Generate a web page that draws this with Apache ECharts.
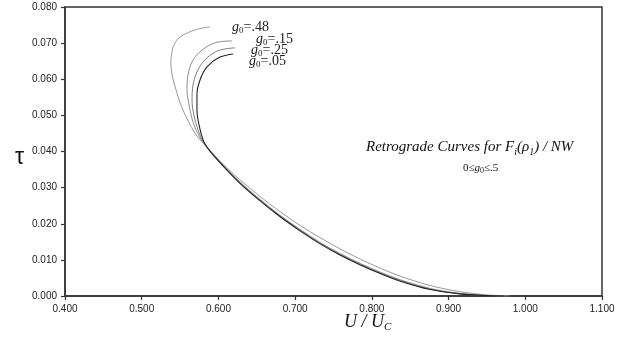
<!DOCTYPE html>
<html>
<head>
<meta charset="utf-8">
<script src="https://cdn.jsdelivr.net/npm/echarts@6/dist/echarts.min.js"></script>
<style>
  html, body { margin: 0; padding: 0; background: #fff; }
  #chart { width: 642px; height: 339px; }
</style>
</head>
<body>
<div id="chart"></div>
<script>
// Retrograde curves: shear stress ratio tau against velocity ratio U/Uc
const xTicks = [0.4, 0.5, 0.6, 0.7, 0.8, 0.9, 1.0, 1.1];
const yTicks = [0, 0.01, 0.02, 0.03, 0.04, 0.05, 0.06, 0.07, 0.08];

// [U/Uc, tau] per g0 value
const curveG048 = [
  [0.589, 0.0745], [0.570, 0.0737], [0.550, 0.0717], [0.542, 0.0695], [0.5395, 0.0676],
  [0.538, 0.0648], [0.5395, 0.0612], [0.5447, 0.0571], [0.551, 0.0529], [0.560, 0.0487],
  [0.5708, 0.0446], [0.580, 0.0424], [0.602, 0.0374], [0.628, 0.0322], [0.654, 0.0276],
  [0.680, 0.0234], [0.706, 0.0196], [0.732, 0.0162], [0.759, 0.0130], [0.785, 0.0102],
  [0.811, 0.0077], [0.837, 0.0055], [0.876, 0.0029], [0.915, 0.0012], [0.950, 0.0003],
  [0.980, 0.0]
];
const curveG015 = [
  [0.6177, 0.0706], [0.5956, 0.0701], [0.576, 0.0676], [0.5656, 0.0648], [0.5604, 0.0612],
  [0.559, 0.0571], [0.5617, 0.0529], [0.568, 0.0474], [0.576, 0.0438], [0.5825, 0.0418],
  [0.602, 0.0371], [0.628, 0.0316], [0.654, 0.0268], [0.680, 0.0224], [0.706, 0.0185],
  [0.732, 0.0149], [0.759, 0.0117], [0.785, 0.0090], [0.811, 0.0066], [0.837, 0.0045],
  [0.876, 0.0021], [0.915, 0.0007], [0.950, 0.0001], [0.976, 0.0]
];
const curveG025 = [
  [0.6216, 0.0687], [0.5995, 0.0679], [0.5825, 0.0654], [0.572, 0.0620], [0.5669, 0.0584],
  [0.5656, 0.0543], [0.568, 0.0501], [0.5734, 0.0460], [0.5812, 0.0424],
  [0.602, 0.0370], [0.628, 0.0314], [0.654, 0.0266], [0.680, 0.0222], [0.706, 0.0183],
  [0.732, 0.0147], [0.759, 0.0115], [0.785, 0.0088], [0.811, 0.0064], [0.837, 0.0043],
  [0.876, 0.0019], [0.915, 0.0006], [0.950, 0.0001], [0.974, 0.0]
];
const curveG005 = [
  [0.619, 0.0670], [0.5995, 0.0659], [0.585, 0.0634], [0.576, 0.0598], [0.572, 0.0557],
  [0.572, 0.0515], [0.5747, 0.0474], [0.580, 0.0432], [0.585, 0.0412],
  [0.602, 0.0369], [0.628, 0.0312], [0.654, 0.0264], [0.680, 0.0220], [0.706, 0.0181],
  [0.732, 0.0145], [0.759, 0.0113], [0.785, 0.0086], [0.811, 0.0062], [0.837, 0.0041],
  [0.876, 0.0018], [0.915, 0.0006], [0.950, 0.0001], [0.972, 0.0]
];

const serif = '"Liberation Serif", "DejaVu Serif", serif';
const sans = '"Liberation Sans", Arial, sans-serif';

function curve(name, data, color, width) {
  return {
    name: name,
    type: 'line',
    data: data,
    smooth: 0.35,
    showSymbol: false,
    lineStyle: { color: color, width: width },
    z: 3
  };
}

// "g0=.xx" tag as rich text with subscript 0
function gTag(text, left, top) {
  return {
    type: 'text',
    left: left,
    top: top,
    style: {
      text: '{g|g}{s|0}{t|' + text + '}',
      rich: {
        g: { fontFamily: serif, fontStyle: 'italic', fontSize: 14, lineHeight: 16, fill: '#222' },
        s: { fontFamily: serif, fontSize: 9, lineHeight: 9, verticalAlign: 'bottom', fill: '#222' },
        t: { fontFamily: serif, fontSize: 14, lineHeight: 16, fill: '#222' }
      }
    }
  };
}

const chart = echarts.init(document.getElementById('chart'));
chart.setOption({
  animation: false,
  backgroundColor: '#fff',
  grid: {
    left: 65, right: 40, top: 7, bottom: 43,
    show: true, borderColor: '#333', borderWidth: 1.5, backgroundColor: 'transparent'
  },
  xAxis: {
    type: 'value',
    min: xTicks[0], max: xTicks[xTicks.length - 1], interval: 0.1,
    axisLine: { show: true, lineStyle: { color: '#333', width: 1.5 } },
    axisTick: { show: true, inside: false, length: 4, lineStyle: { color: '#333', width: 1.2 } },
    splitLine: { show: false },
    axisLabel: {
      color: '#222', fontFamily: sans, fontSize: 10, margin: 8,
      formatter: v => v.toFixed(3)
    }
  },
  yAxis: {
    type: 'value',
    min: yTicks[0], max: yTicks[yTicks.length - 1], interval: 0.01,
    axisLine: { show: true, lineStyle: { color: '#333', width: 1.5 } },
    axisTick: { show: true, inside: false, length: 4, lineStyle: { color: '#333', width: 1.2 } },
    splitLine: { show: false },
    axisLabel: {
      color: '#222', fontFamily: sans, fontSize: 10, margin: 8,
      formatter: v => v.toFixed(3)
    }
  },
  series: [
    curve('g0=.48', curveG048, '#8c8c8c', 0.9),
    curve('g0=.15', curveG015, '#808080', 0.9),
    curve('g0=.25', curveG025, '#6e6e6e', 0.9),
    curve('g0=.05', curveG005, '#222', 1.1)
  ],
  graphic: [
    gTag('=.48', 232, 20),
    gTag('=.15', 256, 32),
    gTag('=.25', 251, 43),
    gTag('=.05', 249, 54),
    {
      type: 'text', left: 366, top: 140,
      style: {
        text: '{m|Retrograde Curves for F}{s|i}{m|(ρ}{s|1}{m|) / NW}',
        rich: {
          m: { fontFamily: serif, fontStyle: 'italic', fontSize: 15, lineHeight: 20, fill: '#111' },
          s: { fontFamily: serif, fontStyle: 'italic', fontSize: 10, lineHeight: 10, verticalAlign: 'bottom', fill: '#111' }
        }
      }
    },
    {
      type: 'text', left: 463, top: 163,
      style: {
        text: '{t|0≤}{g|g}{s|0}{t|≤.5}',
        rich: {
          t: { fontFamily: serif, fontSize: 11, lineHeight: 13, fill: '#111' },
          g: { fontFamily: serif, fontStyle: 'italic', fontSize: 11, lineHeight: 13, fill: '#111' },
          s: { fontFamily: serif, fontSize: 8, lineHeight: 8, verticalAlign: 'bottom', fill: '#111' }
        }
      }
    },
    {
      type: 'text', left: 344, top: 313,
      style: {
        text: '{m|U / U}{s|C}',
        rich: {
          m: { fontFamily: serif, fontStyle: 'italic', fontSize: 18, lineHeight: 22, fill: '#111' },
          s: { fontFamily: serif, fontStyle: 'italic', fontSize: 11, lineHeight: 11, verticalAlign: 'bottom', fill: '#111' }
        }
      }
    },
    {
      type: 'text', left: 15, top: 146,
      style: { text: 'τ', fontFamily: sans, fontSize: 23, fill: '#111' }
    }
  ]
});
</script>
</body>
</html>
